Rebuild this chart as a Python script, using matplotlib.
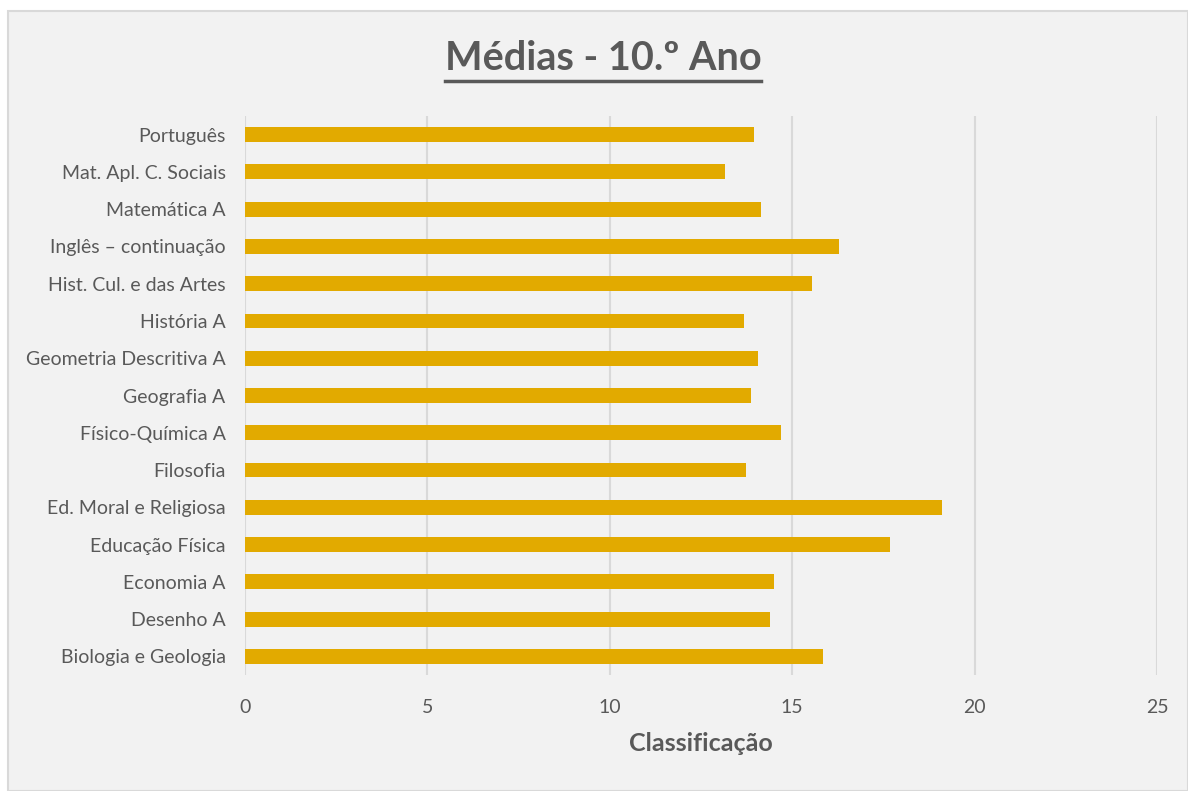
import matplotlib.pyplot as plt
from matplotlib.patches import Rectangle
from matplotlib.lines import Line2D

disciplinas = ["Português", "Mat. Apl. C. Sociais", "Matemática A", "Inglês – continuação",
               "Hist. Cul. e das Artes", "História A", "Geometria Descritiva A", "Geografia A",
               "Físico-Química A", "Filosofia", "Ed. Moral e Religiosa", "Educação Física",
               "Economia A", "Desenho A", "Biologia e Geologia"]
medias = [13.94, 13.17, 14.15, 16.29, 15.55, 13.68, 14.05, 13.86,
          14.69, 13.74, 19.10, 17.69, 14.49, 14.38, 15.85]
xticks = [0, 5, 10, 15, 20, 25]

plt.rcParams['font.family'] = ['Lato', 'DejaVu Sans']
cinza = "#595959"
W, H = 1188, 791

fig = plt.figure(figsize=(W / 100, H / 100), dpi=100)
fig.patch.set_facecolor("white")
# fundo do gráfico com borda
fig.patches.append(Rectangle((8 / W, 0), 1 - 8 / W, 1 - 11 / H, transform=fig.transFigure,
                             facecolor="#F2F2F2", edgecolor="#D9D9D9", linewidth=1.5, zorder=-5))

ax = fig.add_axes([245 / W, 1 - 675 / H, (1157 - 245) / W, (675 - 116) / H])
ax.set_facecolor("none")
y = list(range(len(disciplinas)))
ax.barh(y, medias, height=0.4, color="#E2AA00", zorder=3)
ax.set_ylim(len(disciplinas) - 0.5, -0.5)
ax.set_xlim(0, 25)
ax.set_xticks(xticks)
ax.set_yticks(y)
ax.set_yticklabels(disciplinas)
ax.grid(axis="x", color="#D9D9D9", linewidth=1.5, zorder=0)
for s in ax.spines.values():
    s.set_visible(False)
ax.tick_params(axis="y", length=0, labelsize=14, colors=cinza, pad=14)
ax.tick_params(axis="x", length=0, labelsize=14, colors=cinza, pad=17)
ax.set_xlabel("Classificação", fontsize=18, fontweight="bold", color=cinza, labelpad=12)

titulo = fig.text(603 / W, 1 - 59 / H, "Médias - 10.º Ano", ha="center", va="center",
                  fontsize=28.5, fontweight="bold", color=cinza)
# sublinhado do título
fig.canvas.draw()
bb = titulo.get_window_extent().transformed(fig.transFigure.inverted())
yl = bb.y0 - 3 / H
fig.lines.append(Line2D([bb.x0, bb.x1], [yl, yl], transform=fig.transFigure, color=cinza, linewidth=2.5))

fig.savefig("out.png", dpi=100)
